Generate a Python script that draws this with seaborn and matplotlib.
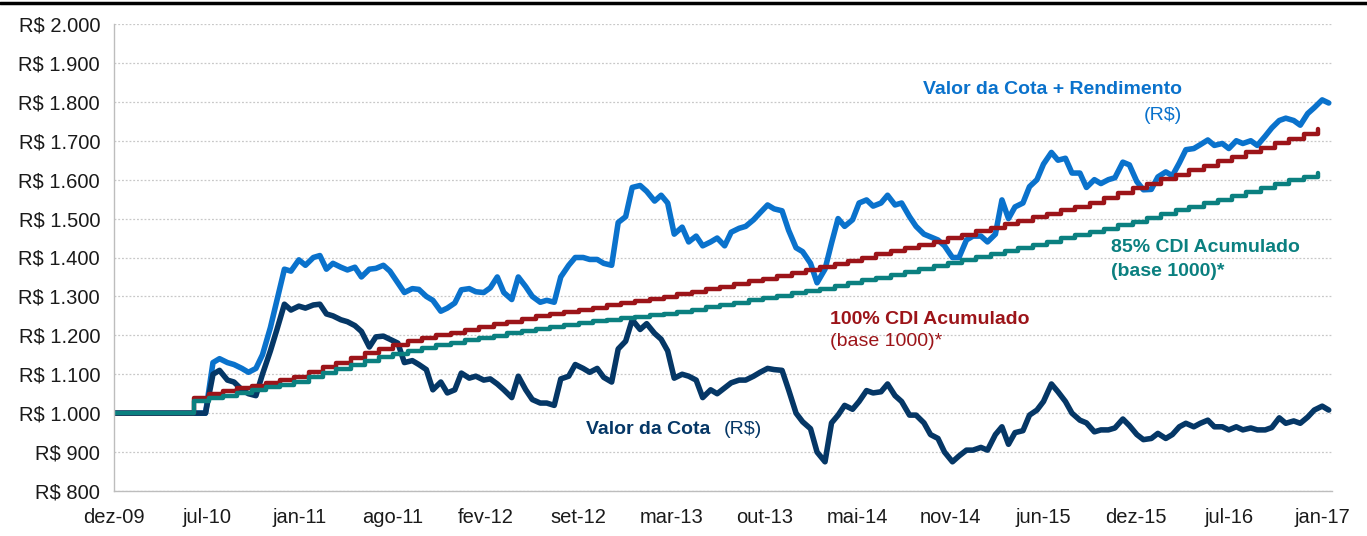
import pandas as pd
import numpy as np
import matplotlib
matplotlib.use('Agg')
import matplotlib.pyplot as plt
import matplotlib.dates as mdates
from matplotlib.lines import Line2D
from matplotlib.ticker import FuncFormatter
import seaborn as sns

# 1. Dados (quinzenais para o fundo, mensais para o CDI)
inicio_fundo = [1000, 1000, 1000, 1000, 1000, 1000, 1000,
                1000, 1000, 1000, 1000, 1000, 1000, 1000]  # dez-09 .. jun-10

# Valor da Cota + Rendimento (R$)
rend_2010 = [1130, 1140, 1130, 1125, 1115, 1105, 1115, 1150, 1220, 1290, 1370, 1365]
rend_2011 = [1394, 1380, 1400, 1405, 1370, 1385, 1375, 1368, 1375, 1350, 1370, 1372,
             1380, 1365, 1335, 1310, 1320, 1318, 1300, 1290, 1262, 1270, 1283, 1317]
rend_2012 = [1320, 1312, 1310, 1322, 1350, 1310, 1292, 1350, 1325, 1300, 1285, 1290,
             1285, 1350, 1380, 1400, 1400, 1395, 1395, 1385, 1380, 1490, 1505, 1580]
rend_2013 = [1585, 1570, 1545, 1560, 1540, 1460, 1478, 1440, 1455, 1430, 1440, 1450,
             1430, 1465, 1475, 1480, 1497, 1515, 1535, 1525, 1520, 1470, 1425, 1415]
rend_2014 = [1385, 1335, 1370, 1437, 1500, 1480, 1497, 1540, 1548, 1532, 1540, 1560,
             1535, 1540, 1505, 1480, 1460, 1453, 1445, 1430, 1400, 1400, 1445, 1455]
rend_2015 = [1455, 1440, 1460, 1548, 1500, 1530, 1540, 1582, 1600, 1640, 1670, 1650,
             1655, 1617, 1617, 1580, 1600, 1590, 1600, 1605, 1645, 1638, 1595, 1574]
rend_2016 = [1575, 1607, 1620, 1610, 1643, 1677, 1680, 1690, 1702, 1688, 1693, 1680,
             1700, 1693, 1700, 1688, 1712, 1733, 1752, 1758, 1752, 1740, 1770, 1785]
rend_2017 = [1805, 1797]

# Valor da Cota (R$)
cota_2010 = [1100, 1110, 1085, 1080, 1060, 1050, 1045, 1100, 1160, 1215, 1280, 1265]
cota_2011 = [1275, 1270, 1278, 1280, 1255, 1250, 1240, 1235, 1225, 1210, 1170, 1196,
             1198, 1190, 1180, 1130, 1135, 1125, 1112, 1060, 1080, 1052, 1060, 1103]
cota_2012 = [1090, 1095, 1085, 1088, 1075, 1060, 1040, 1095, 1060, 1035, 1026, 1026,
             1020, 1088, 1095, 1125, 1115, 1105, 1115, 1092, 1080, 1165, 1185, 1240]
cota_2013 = [1215, 1230, 1205, 1190, 1160, 1090, 1100, 1095, 1085, 1040, 1060, 1050,
             1065, 1078, 1085, 1085, 1095, 1105, 1115, 1112, 1110, 1060, 1000, 978]
cota_2014 = [960, 900, 875, 975, 995, 1020, 1010, 1030, 1058, 1052, 1055, 1075,
             1045, 1030, 995, 995, 975, 945, 935, 900, 875, 890, 905, 905]
cota_2015 = [912, 905, 945, 965, 920, 950, 955, 995, 1008, 1030, 1075, 1055,
             1030, 1000, 982, 975, 952, 957, 957, 962, 985, 968, 945, 932]
cota_2016 = [935, 948, 935, 945, 965, 974, 965, 974, 982, 965, 965, 957,
             965, 957, 962, 957, 957, 963, 988, 974, 980, 974, 990, 1008]
cota_2017 = [1018, 1008]

# 100% CDI acumulado (base 1000)
cdi100_2010 = [1000, 1040, 1048, 1056, 1064, 1071, 1078, 1086]
cdi100_2011 = [1094, 1106, 1118, 1130, 1142, 1154, 1166, 1176, 1185, 1193, 1200, 1207]
cdi100_2012 = [1214, 1221, 1228, 1235, 1242, 1249, 1255, 1260, 1266, 1271, 1277, 1282]
cdi100_2013 = [1288, 1293, 1299, 1305, 1311, 1318, 1325, 1332, 1339, 1346, 1353, 1360]
cdi100_2014 = [1368, 1376, 1384, 1392, 1400, 1408, 1416, 1424, 1432, 1441, 1450, 1459]
cdi100_2015 = [1468, 1477, 1486, 1495, 1504, 1513, 1522, 1531, 1540, 1552, 1565, 1578]
cdi100_2016 = [1590, 1601, 1613, 1624, 1636, 1648, 1659, 1671, 1682, 1694, 1705, 1717]
cdi100_2017 = [1729]

# 85% CDI acumulado (base 1000)
cdi85_2010 = [1000, 1031, 1038, 1045, 1052, 1059, 1066, 1073]
cdi85_2011 = [1081, 1092, 1103, 1114, 1124, 1134, 1144, 1152, 1160, 1167, 1174, 1181]
cdi85_2012 = [1187, 1193, 1199, 1205, 1211, 1217, 1222, 1227, 1232, 1236, 1240, 1244]
cdi85_2013 = [1248, 1252, 1256, 1261, 1266, 1272, 1278, 1284, 1290, 1296, 1302, 1308]
cdi85_2014 = [1314, 1320, 1327, 1334, 1341, 1348, 1355, 1362, 1370, 1378, 1386, 1393]
cdi85_2015 = [1401, 1409, 1417, 1425, 1433, 1441, 1449, 1457, 1465, 1474, 1483, 1492]
cdi85_2016 = [1502, 1511, 1521, 1530, 1540, 1549, 1559, 1568, 1578, 1588, 1598, 1608]
cdi85_2017 = [1618]

tick_labels = ['dez-09', 'jul-10', 'jan-11', 'ago-11', 'fev-12', 'set-12', 'mar-13',
               'out-13', 'mai-14', 'nov-14', 'jun-15', 'dez-15', 'jul-16', 'jan-17']

# 2. Montar as séries
rend = (inicio_fundo + rend_2010 + rend_2011 + rend_2012 + rend_2013
        + rend_2014 + rend_2015 + rend_2016 + rend_2017)
cota = (inicio_fundo + cota_2010 + cota_2011 + cota_2012 + cota_2013
        + cota_2014 + cota_2015 + cota_2016 + cota_2017)
cdi100 = (cdi100_2010 + cdi100_2011 + cdi100_2012 + cdi100_2013
          + cdi100_2014 + cdi100_2015 + cdi100_2016 + cdi100_2017)
cdi85 = (cdi85_2010 + cdi85_2011 + cdi85_2012 + cdi85_2013
         + cdi85_2014 + cdi85_2015 + cdi85_2016 + cdi85_2017)

fundo = pd.DataFrame({
    'data': pd.date_range('2009-12-01', periods=len(rend), freq='SMS'),
    'rend': rend,
    'cota': cota,
})
datas_cdi = [pd.Timestamp('2009-12-01')] + list(
    pd.date_range('2010-05-22', periods=len(cdi100) - 1, freq=pd.DateOffset(months=1)))
cdi = pd.DataFrame({'data': datas_cdi, 'cdi100': cdi100, 'cdi85': cdi85})

# 3. Estilo
sns.set_style('white')
plt.rcParams['font.family'] = ['Liberation Sans', 'DejaVu Sans']

azul = '#0a72cc'
marinho = '#053766'
vermelho = '#9c1419'
verde = '#0b8080'

fig = plt.figure(figsize=(13.67, 5.36), dpi=100)
ax = fig.add_axes([114 / 1367, 45 / 536, (1332 - 114) / 1367, (491 - 24) / 536])

sns.lineplot(data=fundo, x='data', y='rend', color=azul, linewidth=4.0, ax=ax)
sns.lineplot(data=fundo, x='data', y='cota', color=marinho, linewidth=4.0, ax=ax)
sns.lineplot(data=cdi, x='data', y='cdi100', color=vermelho, linewidth=3.2,
             drawstyle='steps-post', ax=ax)
sns.lineplot(data=cdi, x='data', y='cdi85', color=verde, linewidth=3.2,
             drawstyle='steps-post', ax=ax)

# 4. Eixos
x0 = pd.Timestamp('2009-12-01')
dias_tick = 2588 / 13
ticks = [mdates.date2num(x0) + i * dias_tick for i in range(len(tick_labels))]
ax.set_xlim(mdates.date2num(x0), mdates.date2num(x0) + 2609)
ax.set_xticks(ticks)
ax.set_xticklabels(tick_labels)
ax.set_ylim(800, 2000)
ax.set_yticks(np.arange(800, 2001, 100))
ax.yaxis.set_major_formatter(FuncFormatter(lambda v, p: 'R$ ' + f'{int(v):,}'.replace(',', '.')))
ax.set_xlabel('')
ax.set_ylabel('')

ax.grid(axis='y', linestyle=(0, (1.5, 1.5)), color='#c8c8c8', linewidth=0.9)
ax.grid(axis='x', visible=False)
for s in ['top', 'right']:
    ax.spines[s].set_visible(False)
for s in ['left', 'bottom']:
    ax.spines[s].set_color('#bdbdbd')
    ax.spines[s].set_linewidth(1.0)
ax.tick_params(axis='both', which='major', direction='out', length=6, width=1,
               color='#bdbdbd', labelsize=14.5, labelcolor='#1a1a1a', pad=4)
ax.tick_params(axis='x', pad=6)

# 5. Rótulos das séries
def rotulo(px, py, texto, cor, peso='bold', ha='left'):
    fig.text(px / 1367, 1 - py / 536, texto, color=cor, fontsize=14,
             fontweight=peso, ha=ha, va='center')

rotulo(1182, 89, 'Valor da Cota + Rendimento', azul, ha='right')
rotulo(1182, 116, '(R$)', azul, peso='normal', ha='right')
rotulo(1111, 248, '85% CDI Acumulado', verde)
rotulo(1111, 272, '(base 1000)*', verde)
rotulo(830, 319, '100% CDI Acumulado', vermelho)
rotulo(830, 342, '(base 1000)*', vermelho, peso='normal')
rotulo(586, 429, 'Valor da Cota', marinho)
rotulo(724, 429, '(R$)', marinho, peso='normal')

# linha preta no topo
fig.add_artist(Line2D([0, 1], [1 - 3 / 536, 1 - 3 / 536], color='black',
                      linewidth=2.5, transform=fig.transFigure))

plt.savefig('out.png', dpi=100)
